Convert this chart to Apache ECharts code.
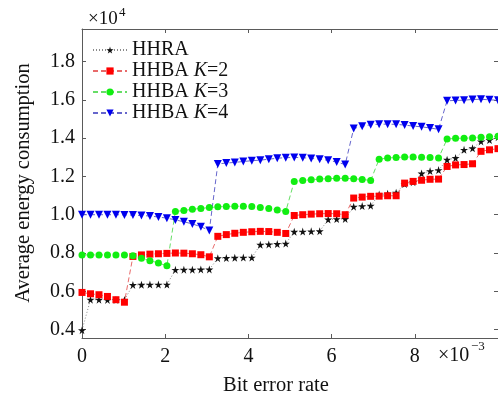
<!DOCTYPE html>
<html>
<head>
<meta charset="utf-8">
<script src="https://cdn.jsdelivr.net/npm/echarts@6/dist/echarts.min.js"></script>
<style>html,body{margin:0;padding:0;background:#fff}#chart{width:498px;height:401px}</style>
</head>
<body>
<div id="chart"></div>
<script>
// bit error rate (x 1e-3)
var berX = [0, 0.204, 0.408, 0.612, 0.816, 1.020, 1.224, 1.429, 1.633, 1.837,
            2.041, 2.245, 2.449, 2.653, 2.857, 3.061, 3.265, 3.469, 3.673, 3.878,
            4.082, 4.286, 4.490, 4.694, 4.898, 5.102, 5.306, 5.510, 5.714, 5.918,
            6.122, 6.327, 6.531, 6.735, 6.939, 7.143, 7.347, 7.551, 7.755, 7.959,
            8.163, 8.367, 8.571, 8.776, 8.980, 9.184, 9.388, 9.592, 9.796, 10];
// energy (x 1e4)
var hhra = [0.397, 0.556, 0.556, 0.555, 0.555, 0.555, 0.633, 0.634, 0.635, 0.635,
            0.635, 0.712, 0.713, 0.713, 0.714, 0.714, 0.773, 0.774, 0.775, 0.776,
            0.776, 0.843, 0.845, 0.847, 0.849, 0.911, 0.912, 0.913, 0.914, 0.975,
            0.977, 0.978, 1.042, 1.045, 1.047, 1.105, 1.110, 1.115, 1.160, 1.170,
            1.215, 1.228, 1.233, 1.287, 1.296, 1.339, 1.347, 1.383, 1.390, 1.405];
var hhbaK2 = [0.594, 0.587, 0.582, 0.573, 0.556, 0.543, 0.782, 0.790, 0.794, 0.796,
              0.798, 0.800, 0.799, 0.796, 0.791, 0.780, 0.887, 0.896, 0.903, 0.908,
              0.911, 0.913, 0.912, 0.908, 0.902, 0.996, 1.000, 1.003, 1.005, 1.006,
              1.005, 1.000, 1.087, 1.092, 1.096, 1.097, 1.099, 1.099, 1.165, 1.174,
              1.180, 1.185, 1.186, 1.252, 1.260, 1.262, 1.266, 1.331, 1.339, 1.345];
var hhbaK3 = [0.790, 0.790, 0.790, 0.790, 0.790, 0.789, 0.785, 0.772, 0.760, 0.748,
              0.733, 1.017, 1.022, 1.028, 1.033, 1.037, 1.041, 1.043, 1.044, 1.044,
              1.043, 1.038, 1.032, 1.025, 1.017, 1.174, 1.179, 1.183, 1.186, 1.188,
              1.190, 1.190, 1.188, 1.184, 1.179, 1.290, 1.296, 1.299, 1.301, 1.301,
              1.300, 1.299, 1.296, 1.395, 1.399, 1.400, 1.401, 1.404, 1.407, 1.410];
var hhbaK4 = [1.000, 1.000, 1.000, 1.000, 1.000, 0.999, 0.998, 0.996, 0.993, 0.988,
              0.982, 0.973, 0.963, 0.952, 0.937, 0.918, 1.265, 1.270, 1.273, 1.278,
              1.282, 1.285, 1.290, 1.295, 1.298, 1.299, 1.298, 1.294, 1.290, 1.284,
              1.275, 1.262, 1.450, 1.462, 1.470, 1.473, 1.473, 1.472, 1.468, 1.463,
              1.459, 1.453, 1.446, 1.595, 1.597, 1.598, 1.602, 1.603, 1.600, 1.598];
var yTicks = [0.4, 0.6, 0.8, 1.0, 1.2, 1.4, 1.6, 1.8];
var seriesNames = ['HHRA', 'HHBA K=2', 'HHBA K=3', 'HHBA K=4'];

var font = 'Liberation Serif';
var axisColor = '#5a5a5a';
var star = 'path://M50,0L61,35L98,35L68,57L79,91L50,70L21,91L32,57L2,35L39,35Z';

function pairs(ys) {
    return ys.map(function (v, i) { return [berX[i], v]; });
}

var myChart = echarts.init(document.getElementById('chart'));

function xAx(pos, showLabel) {
    return {
        type: 'value', min: 0, max: 10, interval: 2, position: pos,
        axisLine: { show: true, onZero: false, lineStyle: { color: axisColor, width: 1 } },
        axisTick: { show: true, inside: true, length: 4, lineStyle: { color: axisColor } },
        axisLabel: { show: showLabel, fontFamily: font, fontSize: 20, color: '#111', margin: 9, showMaxLabel: false },
        splitLine: { show: false }
    };
}
function yAx(pos, showLabel) {
    return {
        type: 'value', min: 0.356, max: 1.97, position: pos,
        axisLine: { show: true, onZero: false, lineStyle: { color: axisColor, width: 1 } },
        axisTick: { show: true, inside: true, length: 4, lineStyle: { color: axisColor }, customValues: yTicks },
        axisLabel: {
            show: showLabel, fontFamily: font, fontSize: 20, color: '#111', margin: 7,
            customValues: yTicks,
            formatter: function (v) { return v.toFixed(1); }
        },
        splitLine: { show: false }
    };
}

var option = {
    animation: false,
    backgroundColor: '#fff',
    grid: { left: 82, top: 29, width: 421, height: 309 },
    xAxis: [xAx('bottom', true), xAx('top', false)],
    yAxis: [yAx('left', true), yAx('right', false)],
    legend: {
        orient: 'vertical', left: 92, top: 40, padding: 0,
        itemWidth: 34, itemHeight: 9, itemGap: 1,
        data: seriesNames,
        formatter: function (name) { return name.replace('K', '{i|K}'); },
        textStyle: {
            fontFamily: font, fontSize: 20, color: '#111', lineHeight: 20,
            rich: { i: { fontFamily: font, fontSize: 20, fontStyle: 'italic', color: '#111', lineHeight: 20 } }
        }
    },
    graphic: [
        { type: 'text', left: 88, top: 10, style: { text: '×10', font: '19px "Liberation Serif"', fill: '#111' } },
        { type: 'text', left: 119, top: 6, style: { text: '4', font: '13px "Liberation Serif"', fill: '#111' } },
        { type: 'text', left: 438, top: 346, style: { text: '×10', font: '20px "Liberation Serif"', fill: '#111' } },
        { type: 'text', left: 471, top: 340, style: { text: '−3', font: '13px "Liberation Serif"', fill: '#111' } },
        { type: 'text', left: 223, top: 375, style: { text: 'Bit error rate', font: '20.5px "Liberation Serif"', fill: '#111' } },
        {
            type: 'text', x: 24, y: 183, rotation: Math.PI / 2,
            style: { text: 'Average energy consumption', font: '20.5px "Liberation Serif"', fill: '#111', align: 'center', verticalAlign: 'middle' }
        }
    ],
    series: [
        {
            name: 'HHRA', type: 'line', data: pairs(hhra),
            symbol: star, symbolSize: 8, itemStyle: { color: '#111' },
            lineStyle: { color: '#8a8a8a', width: 1, type: [1, 2] }
        },
        {
            name: 'HHBA K=2', type: 'line', data: pairs(hhbaK2),
            symbol: 'rect', symbolSize: 7, itemStyle: { color: '#ff0000' },
            lineStyle: { color: '#e86a6a', width: 1, type: [5, 3] }
        },
        {
            name: 'HHBA K=3', type: 'line', data: pairs(hhbaK3),
            symbol: 'circle', symbolSize: 7, itemStyle: { color: '#11ee11' },
            lineStyle: { color: '#66dd66', width: 1, type: [5, 3] }
        },
        {
            name: 'HHBA K=4', type: 'line', data: pairs(hhbaK4),
            symbol: 'triangle', symbolRotate: 180, symbolSize: 8, itemStyle: { color: '#0000ee' },
            lineStyle: { color: '#6666cc', width: 1, type: [5, 3] }
        }
    ]
};

myChart.setOption(option);
</script>
</body>
</html>
